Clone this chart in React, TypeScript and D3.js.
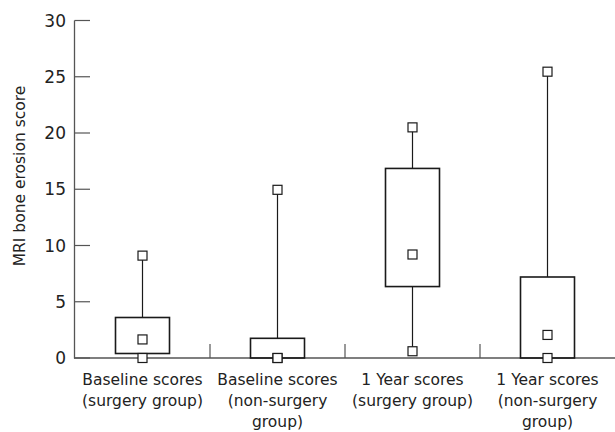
import React from "react";
import * as d3 from "d3";

const categories: string[][] = [
  ["Baseline scores", "(surgery group)"],
  ["Baseline scores", "(non-surgery", "group)"],
  ["1 Year scores", "(surgery group)"],
  ["1 Year scores", "(non-surgery", "group)"],
];
const maxVals = [9.1, 14.95, 20.5, 25.45];
const q3Vals = [3.6, 1.75, 16.85, 7.2];
const midVals = [1.65, 0, 9.2, 2.05];
const q1Vals = [0.4, 0, 6.35, 0];
const minVals = [0, 0, 0.6, 0];
const yTicks = [0, 5, 10, 15, 20, 25, 30];
const yLabel = "MRI bone erosion score";

const W = 615;
const H = 432;
const FONT = "'DejaVu Sans', sans-serif";

export default function App() {
  const y = d3.scaleLinear().domain([0, 30]).range([358, 20.5]);
  const idx = categories.map((_, i) => String(i));
  const x = d3.scaleBand().domain(idx).range([75, 615]);
  const bw = x.bandwidth();
  const boxW = bw * 0.4;
  const sq = 9;
  const axisColor = "#555";
  const markColor = "#1a1a1a";

  return (
    <svg
      width={W}
      height={H}
      style={{ position: "absolute", left: 0, top: 0, background: "#fff" }}
      fontFamily={FONT}
    >
      {/* y label */}
      <text
        transform={`translate(25,176) rotate(-90)`}
        textAnchor="middle"
        fontSize={15.5}
        fill="#222"
      >
        {yLabel}
      </text>
      {/* y axis */}
      <line x1={74.5} x2={74.5} y1={y(30)} y2={y(0) + 0.5} stroke={axisColor} strokeWidth={1.3} />
      {yTicks.map((t) => (
        <g key={t}>
          <line x1={74.5} x2={90} y1={y(t)} y2={y(t)} stroke={axisColor} strokeWidth={1.2} />
          <text x={66} y={y(t)} dy="0.36em" textAnchor="end" fontSize={17} fill="#222">
            {t}
          </text>
        </g>
      ))}
      {/* x axis */}
      <line x1={74} x2={615} y1={y(0)} y2={y(0)} stroke={axisColor} strokeWidth={1.3} />
      {idx.slice(1).map((k) => (
        <line
          key={k}
          x1={x(k)!}
          x2={x(k)!}
          y1={y(0) - 14}
          y2={y(0)}
          stroke={axisColor}
          strokeWidth={1.2}
        />
      ))}
      {/* boxes */}
      {idx.map((k, i) => {
        const cx = x(k)! + bw / 2;
        return (
          <g key={k}>
            <line x1={cx} x2={cx} y1={y(q3Vals[i])} y2={y(maxVals[i])} stroke={markColor} strokeWidth={1.2} />
            <line x1={cx} x2={cx} y1={y(q1Vals[i])} y2={y(minVals[i])} stroke={markColor} strokeWidth={1.2} />
            <rect
              x={cx - boxW / 2}
              y={y(q3Vals[i])}
              width={boxW}
              height={y(q1Vals[i]) - y(q3Vals[i])}
              fill="none"
              stroke={markColor}
              strokeWidth={1.6}
            />
            {[maxVals[i], midVals[i], minVals[i]].map((v, j) => (
              <rect
                key={j}
                x={cx - sq / 2}
                y={y(v) - sq / 2}
                width={sq}
                height={sq}
                fill="#fff"
                stroke={markColor}
                strokeWidth={1.2}
              />
            ))}
            <text textAnchor="middle" fontSize={15.5} fill="#222">
              {categories[i].map((line, li) => (
                <tspan key={li} x={cx} y={385 + li * 21}>
                  {line}
                </tspan>
              ))}
            </text>
          </g>
        );
      })}
    </svg>
  );
}
